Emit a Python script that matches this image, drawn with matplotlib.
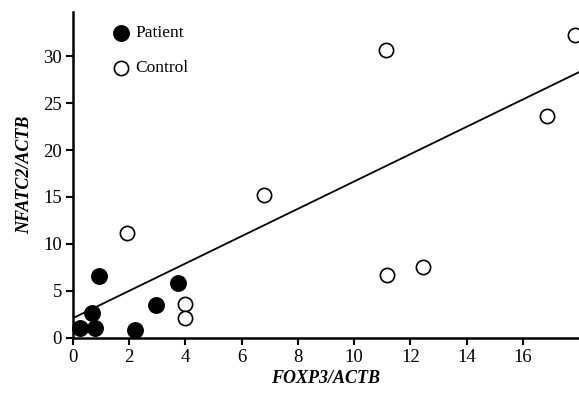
"""Scatter of NFATC2/ACTB vs FOXP3/ACTB for patients and controls."""

import numpy as np
import matplotlib.pyplot as plt

plt.rcParams["font.family"] = ["Liberation Serif", "DejaVu Serif"]

# values
patient_x = [0.25, 0.8, 0.67, 0.93, 2.2, 2.95, 3.73]
patient_y = [1.06, 1.1, 2.7, 6.6, 0.85, 3.5, 5.85]
control_x = [1.92, 4.0, 4.0, 6.8, 11.17, 12.46, 11.14, 16.87, 17.86]
control_y = [11.2, 3.6, 2.1, 15.2, 6.7, 7.55, 30.6, 23.6, 32.2]
x_ticks = [0, 2, 4, 6, 8, 10, 12, 14, 16]
y_ticks = [0, 5, 10, 15, 20, 25, 30]

# regression line as drawn in the figure
fit_intercept = 2.1
fit_slope = 1.455

fig = plt.figure(figsize=(5.79, 3.98), dpi=100)
ax = fig.add_axes([0.126, 0.151, 0.874, 0.819])

ax.scatter(patient_x, patient_y, s=120, c="black", edgecolors="black",
           linewidths=1.2, label="Patient", zorder=3, clip_on=False)
ax.scatter(control_x, control_y, s=105, facecolors="white", edgecolors="black",
           linewidths=1.2, label="Control", zorder=3, clip_on=False)

xs = np.array([0, 18])
ax.plot(xs, fit_intercept + fit_slope * xs, color="black", lw=1.3, zorder=2)

ax.set_xlim(0, 18)
ax.set_ylim(0, 34.7)
ax.set_xticks(x_ticks)
ax.set_yticks(y_ticks)
for side in ["top", "right"]:
    ax.spines[side].set_visible(False)
for side in ["left", "bottom"]:
    ax.spines[side].set_linewidth(1.8)
ax.tick_params(direction="out", length=5, width=1.5, labelsize=13.5, pad=3)

ax.set_xlabel("FOXP3/ACTB", fontsize=13, fontweight="bold", fontstyle="italic", labelpad=3)
ax.set_ylabel("NFATC2/ACTB", fontsize=13, fontweight="bold", fontstyle="italic", labelpad=7)

ax.legend(loc="upper left", bbox_to_anchor=(0.053, 1.0), frameon=False,
          fontsize=12.5, handlelength=1, handletextpad=0.3, labelspacing=1.1,
          borderaxespad=0.35)

fig.savefig("out.png", dpi=100)
